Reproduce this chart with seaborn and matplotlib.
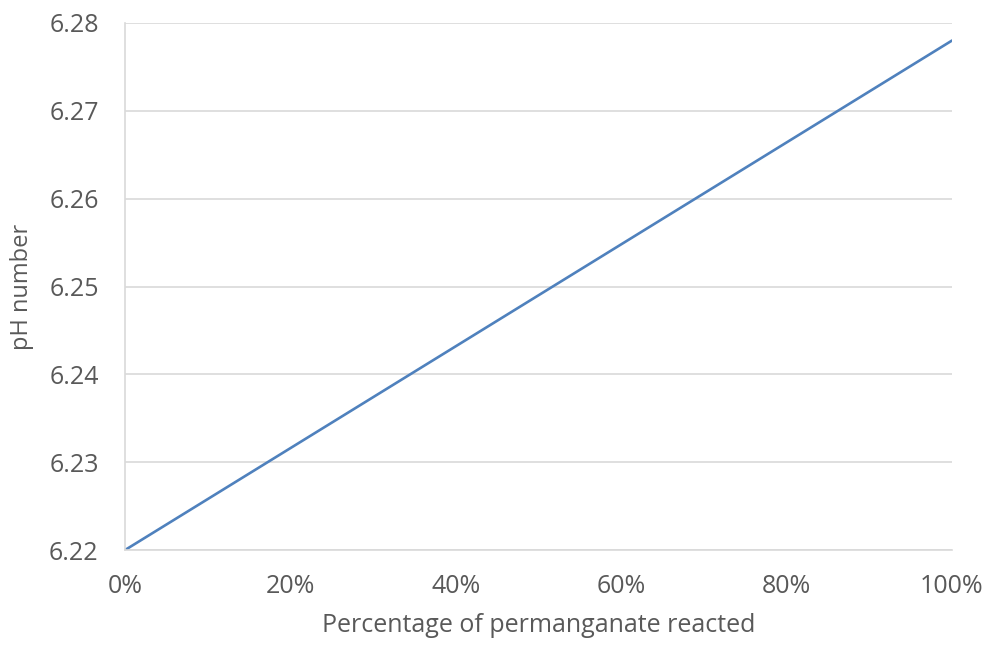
import matplotlib
matplotlib.use('Agg')
import matplotlib.pyplot as plt
import seaborn as sns
import pandas as pd
from matplotlib.ticker import FuncFormatter

# data
reacted_pct = [0, 10, 20, 30, 40, 50, 60, 70, 80, 90, 100]
ph_values = [6.2200, 6.2258, 6.2316, 6.2374, 6.2432, 6.2490, 6.2548, 6.2606, 6.2664, 6.2722, 6.2780]
y_ticks = [6.22, 6.23, 6.24, 6.25, 6.26, 6.27, 6.28]
x_ticks = [0, 20, 40, 60, 80, 100]

df = pd.DataFrame({'reacted': reacted_pct, 'ph': ph_values})

sns.set_style('white')
plt.rcParams['font.family'] = ['Open Sans', 'DejaVu Sans']

text_col = '#595959'
grid_col = '#d9d9d9'

fig = plt.figure(figsize=(9.9, 6.49), dpi=100, facecolor='white')
ax = fig.add_axes([0.1263, 0.1525, 0.8353, 0.8121])

# the line
sns.lineplot(data=df, x='reacted', y='ph', ax=ax, color='#4f81bd', linewidth=1.9)

ax.set_xlim(0, 100)
ax.set_ylim(6.22, 6.28)
ax.set_xticks(x_ticks)
ax.set_yticks(y_ticks)
ax.xaxis.set_major_formatter(FuncFormatter(lambda v, p: f'{v:.0f}%'))
ax.yaxis.set_major_formatter(FuncFormatter(lambda v, p: f'{v:.2f}'))

# grid and spines
ax.grid(axis='y', color=grid_col, linewidth=1.2)
ax.set_axisbelow(True)
for side in ['top', 'right']:
    ax.spines[side].set_visible(False)
for side in ['left', 'bottom']:
    ax.spines[side].set_color(grid_col)
    ax.spines[side].set_linewidth(1.2)

ax.tick_params(axis='both', length=0, labelsize=18, colors=text_col)
ax.tick_params(axis='x', pad=17)
ax.tick_params(axis='y', pad=19)

ax.set_xlabel('Percentage of permanganate reacted', fontsize=18, color=text_col, labelpad=10)
ax.set_ylabel('pH number', fontsize=17, color=text_col, labelpad=11)

plt.savefig('out.png', dpi=100, facecolor='white')
